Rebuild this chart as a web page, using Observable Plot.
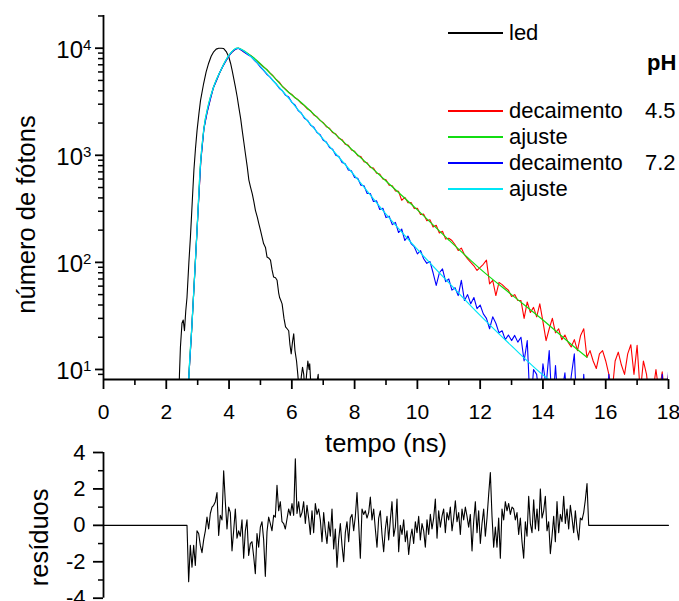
<!DOCTYPE html>
<html><head><meta charset="utf-8">
<script src="https://cdn.jsdelivr.net/npm/d3@7"></script>
<script src="https://cdn.jsdelivr.net/npm/@observablehq/plot@0.6"></script>
<style>
html,body{margin:0;padding:0;background:#fff;}
#wrap{position:relative;width:679px;height:601px;overflow:hidden;font-family:"Liberation Sans",Arial,Helvetica,sans-serif;color:#000;}
#top,#bottom{position:absolute;left:0;width:679px;}
#top{top:0;}
#bottom{top:440px;}
.row{position:absolute;left:448px;height:26px;display:flex;align-items:center;font-size:22px;line-height:26px;white-space:nowrap;}
.row .ln{display:inline-block;width:55px;height:1.4px;}
.row .lb{margin-left:6px;}
.ph{position:absolute;left:645px;font-size:22px;line-height:26px;}
</style></head>
<body><div id="wrap"><div id="top"></div><div id="bottom"></div><div id="legend"></div></div>
<script>
const FONT = '"Liberation Sans", Arial, Helvetica, sans-serif';

// ---------- data ----------
// decay histograms (counts) on the time-channel grid, start 2.7 ns, 0.1 ns per channel
const decayStart = 2.7, decayStep = 0.1;
const redCounts = [
7,21,73,255,885,1790,2500,3320,4260,5020,5880,6770,7580,8520,9220,9780,10000,
9560,9110,8830,8490,7960,7480,7100,6650,6340,5870,5530,5100,4820,4390,4150,3860,3700,3440,3300,3060,
2910,2700,2600,2380,2290,2120,2020,1850,1790,1630,1580,1440,1400,1270,1240,1120,1090,990,975,870,850,
770,760,680,670,600,590,525,520,465,460,380,405,360,362,318,320,280,282,245,250,214,222,188,195,165,
168,160,146,129,136,118,108,100,93,84,90,96,105,63,68,49,65,62,58,55,48,50,44,44,30,42.7,34,38,31,41,
28,18.6,24,30,22,24,19,21,18,16.2,19,15,20.8,24,13,15,12,10.2,14,15,12,9,6,12,14.5,11,9,14,17,9,16.8,
6,12,9,5,6,10,6,9.5,5,9];
const blueCounts = [
7,21,72,258,890,1770,2520,3300,4280,5000,5900,6750,7600,8500,9240,9760,10000,
9540,9130,8690,8340,7730,7260,6650,6200,5710,5400,4970,4650,4230,4010,3630,3500,3120,2950,2620,2480,
2220,2120,1910,1830,1630,1560,1380,1330,1180,1140,1000,975,855,835,730,715,620,610,525,520,440,440,
370,375,312,320,262,270,225,236,190,205,160,176,150,140,120,129,108,98,102,80,61,80,87,66,70,55,58,
49,68,44,50,41,47,37,40,33,30,24,31,27,22,23,19,21,18.6,20.8,18,20,12,18.6,4,10,9,5,11.3,7,15,4,10.9,
4,6,9.3,4,8.6,14,3,3,9,3,2,3,2,3,2,3,9,3,2,3,2,3,2,3,2,3,2,3,2,3,2,3,2,9,3,9.5];
// LED (instrument response)
const ledTime = [2.38,2.42,2.45,2.50,2.54,2.58,2.62,2.66,2.72,2.77,2.83,2.88,2.93,2.98,3.04,3.09,3.19,3.27,3.35,3.43,3.51,3.59,3.67,3.75,3.83,3.91,3.99,4.05,4.10,4.15,4.20,4.26,4.31,4.37,4.42,4.47,4.52,4.58,4.63,4.68,4.74,4.79,4.84,4.90,4.95,5.00,5.05,5.10,5.16,5.21,5.26,5.32,5.37,5.42,5.48,5.53,5.58,5.61,5.65,5.69,5.75,5.80,5.85,5.90,5.94,5.98,6.02,6.06,6.10,6.15,6.19,6.22,6.27,6.30,6.34,6.38,6.42,6.47,6.51,6.55,6.57,6.62,6.70,6.78,6.84,6.88,7.0];
const ledCounts = [3,9,16,27,29,23,35,47,100,174,380,724,1150,1700,2450,3240,4680,6000,7240,8400,9250,9800,10000,10000,9930,9300,8320,7200,6170,5200,4370,3500,2820,2200,1700,1330,1040,780,590,510,437,370,306,265,229,200,173,150,138,112,110,105,85,73,72,68,52,47,44,41,30,25,24,23,17,14,18,21.5,15,12,9,7,6,8.5,10.5,9,6,9,12,10,11.3,6,5,7,9,5,3];
// fits
const fitRiseTime = [2.70,2.72,2.82,2.98,3.09,3.19,3.35,3.51,3.73,3.99,4.26];
const fitRiseCounts = [6,8.5,26.7,200,832,1698,3020,4365,6166,8511,10000];
const fit45Time = [4.70,5.30,5.85,6.27,7,8,9,10,11,11.69,12,13,14,15,15.4];
const fit45Counts = [8511,5888,3981,3162,1995,1072,575,309,162,105,87,50,29,16.2,13];
const fit72Time = [4.70,5.30,5.85,6.27,7,8,9,10,11,12,13,14,14.3];
const fit72Counts = [8318,5370,3548,2512,1413,646,282,132,64.6,32,16.6,8.9,7.6];
// residuals (start 2.66 ns, one value per channel), flat zero outside the fit range
const resStart = 2.66, resStep = 0.0531;
const resEdgeTime = [0, 18];
const resValues = [
0,-3.1,-1.1,-2.3,-1.1,-2.2,-0.3,-0.45,-1.1,-1.5,-0.8,-0.3,0.45,-0.2,0.65,1.0,1.1,1.3,1.8,-0.55,0.55,0.3,3.0,1.3,-0.2,1.0,0.7,-1.4,-0.3,0.9,
-0.7,-0.3,-0.6,0.3,-1.8,-0.3,0.3,-1.65,-1.0,-0.9,-1.7,-2.65,-0.45,-1.2,-0.1,0.2,-0.8,-2.8,-0.35,0.45,0.1,-0.3,0.55,0.45,2.2,0.8,1.3,0.2,0.1,-0.2,
0.35,0.9,0.55,1.2,0.55,3.65,0.65,1.3,0.45,0.7,
1.3,0.1,1.1,0.4,-0.5,0.8,-0.4,1.2,0.6,0.9,0.3,-0.9,0.7,-0.3,-1.0,0.2,-0.6,0.9,-1.3,-0.2,-2.3,-0.8,0.1,-1.1,-2.0,-0.4,0.2,-0.9,0.4,0.6,
-0.3,0.5,1.8,0.1,-1.8,0.9,0.6,0.8,0.4,0.7,1.55,0.3,0.9,-0.2,-1.2,0.4,0.8,-0.5,-1.45,-0.2,0.5,-0.8,0.3,1.3,-0.6,-0.1,1.45,-1.45,0.0,-0.5,
0.3,-0.9,-0.3,-1.6,-0.7,-0.2,-1.0,0.2,-0.4,0.5,-0.8,0.1,-0.3,-1.2,0.3,-0.5,0.6,-0.2,0.4,1.45,-0.7,0.8,-0.1,0.5,0.9,-0.4,0.7,0.3,1.0,-0.3,
0.4,1.35,0.2,0.7,-0.5,0.9,0.3,1.0,0.5,-0.1,0.6,-1.4,0.2,1.3,-0.4,0.8,-1.0,0.1,0.9,-0.6,0.4,1.7,2.9,0.5,-1.2,-0.1,-1.2,0.4,-1.8,0.9,
0.3,1.3,0.8,1.2,0.6,1.0,0.9,0.3,0.7,-0.5,0.4,-0.9,-1.8,0.2,-0.6,1.6,0.1,-0.4,1.4,-0.2,0.9,-0.3,2.0,0.4,0.8,1.6,-0.3,0.2,-1.55,-0.6,
0.5,-0.9,1.3,-0.4,0.6,0.2,1.6,0.1,0.9,-0.2,1.1,0.4,-0.4,0.8,-0.2,-0.8,0.4,0.3,0.7,1.4,2.3,0];

// axes / text
const yDomainTop = [8.06, 20200];
const yMajor = [10, 100, 1000, 10000];
const yMajorBase = ["10","10","10","10"];
const yMajorExp = ["1","2","3","4"];
const yMinor = [9,20,30,40,50,60,70,80,90,200,300,400,500,600,700,800,900,2000,3000,4000,5000,6000,7000,8000,9000,20000];
const xMajor = [0,2,4,6,8,10,12,14,16,18];
const xMajorLabels = ["0","2","4","6","8","10","12","14","16","18"];
const xMinor = [1,3,5,7,9,11,13,15,17];
const resMajor = [-4,-2,0,2,4];
const resMajorLabels = ["-4","-2","0","2","4"];
const resMinor = [-3,-1,1,3];
const xTitle = "tempo (ns)";
const yTitle = "número de fótons";
const resTitle = "resíduos";
const legendLabels = ["led","decaimento","ajuste","decaimento","ajuste"];
const legendColors = ["#000000","#ff0000","#11dd11","#0000ff","#00e6f6"];
const legendPh = ["","4.5","","7.2",""];
const phHeader = "pH";

// ---------- rows ----------
const redRows = redCounts.map((c,i)=>({t: decayStart + i*decayStep, c}));
const blueRows = blueCounts.map((c,i)=>({t: decayStart + i*decayStep, c}));
const ledRows = ledTime.map((t,i)=>({t, c: ledCounts[i]}));
const riseRows = fitRiseTime.map((t,i)=>({t, c: fitRiseCounts[i]}));
const fit45Rows = riseRows.concat(fit45Time.map((t,i)=>({t, c: fit45Counts[i]})));
const fit72Rows = riseRows.concat(fit72Time.map((t,i)=>({t, c: fit72Counts[i]})));
const resRows = [{t: resEdgeTime[0], r: 0}]
  .concat(resValues.map((r,i)=>({t: resStart + i*resStep, r})))
  .concat([{t: resEdgeTime[1], r: 0}]);

const C = legendColors;
const topPlot = Plot.plot({
  width: 679, height: 460,
  marginLeft: 103, marginRight: 11, marginTop: 15, marginBottom: 81,
  style: {background: "transparent", fontFamily: FONT, fontSize: "24px", color: "#000", overflow: "visible"},
  x: {domain: [0, 18]},
  y: {type: "log", domain: yDomainTop},
  marks: [
    Plot.line(ledRows, {x: "t", y: "c", stroke: C[0], strokeWidth: 1.1, clip: true}),
    Plot.line(redRows, {x: "t", y: "c", stroke: C[1], strokeWidth: 1.1, clip: true}),
    Plot.line(fit45Rows, {x: "t", y: "c", stroke: C[2], strokeWidth: 1.2, curve: "monotone-x", clip: true}),
    Plot.line(blueRows, {x: "t", y: "c", stroke: C[3], strokeWidth: 1.1, clip: true}),
    Plot.line(fit72Rows, {x: "t", y: "c", stroke: C[4], strokeWidth: 1.2, curve: "monotone-x", clip: true}),
    Plot.ruleX([0], {stroke: "#000", strokeWidth: 1.8}),
    Plot.ruleY([yDomainTop[0]], {stroke: "#000", strokeWidth: 1.8}),
    Plot.axisX({ticks: xMajor, tickSize: 10, tickPadding: 15, strokeWidth: 1.8, label: null, fontSize: 21,
      tickFormat: d => xMajorLabels[xMajor.indexOf(d)]}),
    Plot.axisX({ticks: xMinor, tickSize: 6, strokeWidth: 1.6, label: null, tickFormat: () => ""}),
    Plot.axisY({ticks: yMajor, tickSize: 8, strokeWidth: 1.8, label: null, tickFormat: () => ""}),
    Plot.axisY({ticks: yMinor, tickSize: 5, strokeWidth: 1.5, label: null, tickFormat: () => ""}),
    Plot.text(yMajor, {y: d => d, text: (d,i) => yMajorBase[i], frameAnchor: "left", textAnchor: "end", lineAnchor: "middle", dx: -20.5, dy: 2, fontSize: 24}),
    Plot.text(yMajor, {y: d => d, text: (d,i) => yMajorExp[i], frameAnchor: "left", textAnchor: "start", lineAnchor: "middle", dx: -20.5, dy: -3, fontSize: 15}),
    Plot.text([xTitle], {text: d => d, frameAnchor: "bottom", textAnchor: "middle", lineAnchor: "middle", dy: 64, fontSize: 25.5}),
    Plot.text([yTitle], {text: d => d, frameAnchor: "left", textAnchor: "middle", lineAnchor: "middle", rotate: -90, dx: -77, dy: 17, fontSize: 25.5})
  ]
});
document.getElementById("top").appendChild(topPlot);

const bottomPlot = Plot.plot({
  width: 679, height: 161,
  marginLeft: 103, marginRight: 11, marginTop: 12, marginBottom: 3.3,
  style: {background: "transparent", fontFamily: FONT, fontSize: "22px", color: "#000", overflow: "visible"},
  x: {domain: [0, 18], axis: null},
  y: {domain: [-4, 4]},
  marks: [
    Plot.line(resRows, {x: "t", y: "r", stroke: "#000", strokeWidth: 1.1}),
    Plot.ruleX([0], {stroke: "#000", strokeWidth: 1.8}),
    Plot.axisY({ticks: resMajor, tickSize: 10, tickPadding: 8, strokeWidth: 1.8, label: null,
      tickFormat: d => resMajorLabels[resMajor.indexOf(d)]}),
    Plot.axisY({ticks: resMinor, tickSize: 5, strokeWidth: 1.5, label: null, tickFormat: () => ""}),
    Plot.text([resTitle], {text: d => d, frameAnchor: "left", textAnchor: "middle", lineAnchor: "middle", rotate: -90, dx: -64, dy: 12, fontSize: 25.5})
  ]
});
document.getElementById("bottom").appendChild(bottomPlot);

// ---------- legend ----------
const legendCenters = [33, 111, 137, 163, 189];
const leg = document.getElementById("legend");
legendLabels.forEach((lab, i) => {
  const row = document.createElement("div");
  row.className = "row";
  row.style.top = (legendCenters[i] - 13) + "px";
  const ln = document.createElement("span");
  ln.className = "ln";
  ln.style.backgroundColor = legendColors[i];
  const lb = document.createElement("span");
  lb.className = "lb";
  lb.textContent = lab;
  row.appendChild(ln); row.appendChild(lb);
  leg.appendChild(row);
  if (legendPh[i]) {
    const p = document.createElement("div");
    p.className = "ph";
    p.style.top = (legendCenters[i] - 13) + "px";
    p.textContent = legendPh[i];
    leg.appendChild(p);
  }
});
const ph = document.createElement("div");
ph.className = "ph";
ph.style.left = "647px";
ph.style.top = (63 - 13) + "px";
ph.style.fontWeight = "bold";
ph.textContent = phHeader;
leg.appendChild(ph);
</script>
</body></html>
